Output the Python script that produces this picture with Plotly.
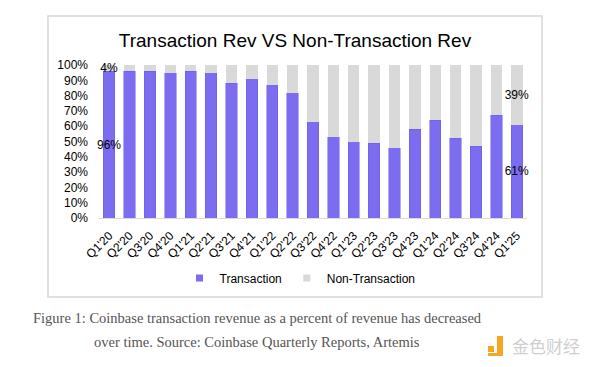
import plotly.graph_objects as go

quarters = ["Q1'20", "Q2'20", "Q3'20", "Q4'20", "Q1'21", "Q2'21", "Q3'21", "Q4'21",
            "Q1'22", "Q2'22", "Q3'22", "Q4'22", "Q1'23", "Q2'23", "Q3'23", "Q4'23",
            "Q1'24", "Q2'24", "Q3'24", "Q4'24", "Q1'25"]
transaction = [96, 96, 96, 95, 96, 95, 88, 91, 87, 82, 63, 53, 50, 49, 46, 58, 64, 52, 47, 67, 61]
non_transaction = [100 - v for v in transaction]
label_idx = [0, len(quarters) - 1]

tx_text = [f"{v}%" if i in label_idx else "" for i, v in enumerate(transaction)]
ntx_text = [f"{v}%" if i in label_idx else "" for i, v in enumerate(non_transaction)]

TX_COLOR = "#7b6cf0"
NTX_COLOR = "#d9d9d9"

OFF = 8  # page body margin
W, H = 600 - OFF, 367 - OFF
L, R, T, B = 99 - OFF, 527 - OFF, 65 - OFF, 218 - OFF


def px(x):
    return (x - OFF - L) / (R - L)


def py(y):
    return (B - (y - OFF)) / (B - T)


lab_font = dict(family="Liberation Sans, Arial", size=12, color="black")

fig = go.Figure()
fig.add_trace(go.Bar(
    x=quarters, y=transaction, name="Transaction", showlegend=False,
    marker=dict(color=TX_COLOR, line=dict(color="#6a5ce0", width=0.5)),
    text=tx_text, textposition="inside", insidetextanchor="middle",
    textangle=0, constraintext="none", cliponaxis=False, textfont=lab_font,
))
fig.add_trace(go.Bar(
    x=quarters, y=non_transaction, name="Non-Transaction", showlegend=False,
    marker=dict(color=NTX_COLOR, line=dict(width=0)),
    text=ntx_text, textposition="inside", insidetextanchor="middle",
    textangle=0, constraintext="none", cliponaxis=False, textfont=lab_font,
))
# legend entries with small square swatches
for name, col in [("Transaction", TX_COLOR), ("Non-Transaction", NTX_COLOR)]:
    fig.add_trace(go.Scatter(x=[None], y=[None], mode="markers", name=name,
                             marker=dict(symbol="square", size=7, color=col)))

fig.update_layout(
    width=W, height=H,
    margin=dict(l=L, r=W - R, t=T, b=H - B),
    barmode="stack", bargap=0.44,
    paper_bgcolor="white", plot_bgcolor="white",
    font=dict(family="Liberation Sans, Arial", size=12, color="black"),
    title=dict(text="Transaction Rev VS Non-Transaction Rev",
               xref="container", yref="container",
               x=(295 - OFF) / W, y=1 - (40 - OFF) / H, xanchor="center", yanchor="middle",
               font=dict(family="Liberation Sans, Arial", size=19, color="black")),
    xaxis=dict(tickangle=-45, showline=True, linecolor="#d9d9d9", linewidth=1,
               ticks="", showgrid=False, tickfont=dict(size=12), ticklabelstandoff=5),
    yaxis=dict(range=[0, 100], dtick=10, ticksuffix="%", showgrid=False,
               zeroline=False, showline=False, tickfont=dict(size=12), ticklabelstandoff=10),
    legend=dict(orientation="h", x=px(300), y=py(278), xanchor="center", yanchor="middle",
                font=dict(size=12), itemwidth=30, traceorder="normal"),
    showlegend=True,
)

# outer box of the chart
fig.add_shape(type="rect", xref="paper", yref="paper",
              x0=px(48), x1=px(542), y0=py(297), y1=py(16),
              line=dict(color="#d6d6d6", width=1.5), layer="below")

cap_font = dict(family="Liberation Serif, DejaVu Serif", size=14.5, color="#555555")
fig.add_annotation(text="Figure 1: Coinbase transaction revenue as a percent of revenue has decreased",
                   xref="paper", yref="paper", x=px(257), y=py(318), showarrow=False,
                   xanchor="center", yanchor="middle", font=cap_font)
fig.add_annotation(text="over time. Source: Coinbase Quarterly Reports, Artemis",
                   xref="paper", yref="paper", x=px(257), y=py(342), showarrow=False,
                   xanchor="center", yanchor="middle", font=cap_font)

# watermark
fig.add_annotation(text="金色财经", xref="paper", yref="paper", x=px(510), y=py(345),
                   showarrow=False, xanchor="left", yanchor="middle",
                   font=dict(family="Noto Sans CJK SC", size=17, color="#cfcfcf"))
fig.add_shape(type="rect", xref="paper", yref="paper",
              x0=px(488), x1=px(494), y0=py(352), y1=py(346),
              fillcolor="#f5a623", line=dict(width=0))
fig.add_shape(type="path", xref="paper", yref="paper",
              path=f"M {px(497)},{py(336)} L {px(503)},{py(336)} L {px(503)},{py(356)} "
                   f"L {px(488)},{py(356)} L {px(488)},{py(353)} L {px(497)},{py(353)} Z",
              fillcolor="#f5a623", line=dict(width=0))

fig.write_html("out.html")
